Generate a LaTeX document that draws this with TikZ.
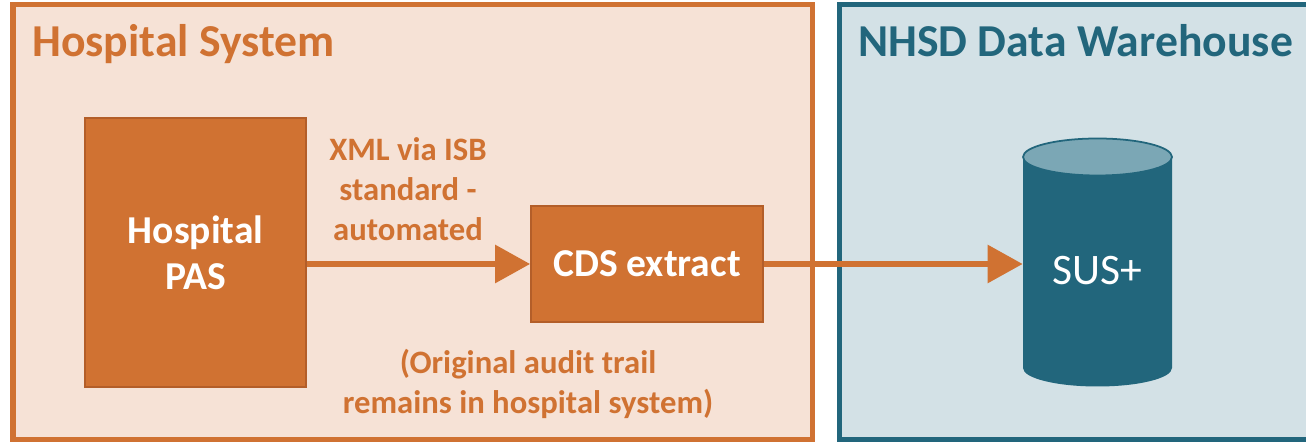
\documentclass[tikz,border=0pt]{standalone}
\usepackage{fontspec}
\setmainfont{Carlito}
\usetikzlibrary{arrows.meta, positioning}
\definecolor{hospOrange}{HTML}{D07232}
\definecolor{hospEdge}{HTML}{B35E29}
\definecolor{hospBg}{HTML}{F6E2D6}
\definecolor{nhsdTeal}{HTML}{22667C}
\definecolor{nhsdBg}{HTML}{D3E1E6}
\definecolor{nhsdTop}{HTML}{7BA7B5}

\begin{document}
\begin{tikzpicture}[x=0.02cm,y=0.02cm,
    every node/.style={align=center,inner sep=0pt},
    frame/.style={line width=2.85pt},
    title/.style={anchor=base west,font=\fontsize{26}{30}\selectfont\bfseries},
    box/.style={draw=hospEdge,line width=1pt,fill=hospOrange,text=white,
      font=\fontsize{22.5}{26}\selectfont\bfseries},
    note/.style={text=hospOrange,font=\fontsize{18.6}{22.8}\selectfont\bfseries},
    flow/.style={draw=hospOrange,line width=3.4pt,
      -{Triangle[length=0.7cm,width=0.74cm]}}]
  \useasboundingbox (0,0) rectangle (1306,445);
  % the two systems
  \draw[frame,draw=hospOrange,fill=hospBg] (13,5) rectangle (812,440);
  \draw[frame,draw=nhsdTeal,fill=nhsdBg] (839,5) rectangle (1316,440);
  \node[title,text=hospOrange] (hosptitle) at (32,388) {Hospital System};
  \node[title,text=nhsdTeal] (nhsdtitle) at (858,388) {NHSD Data Warehouse};
  % hospital side
  \node[box,minimum width=4.42cm,minimum height=5.38cm] (pas) at (195.5,192.5) {Hospital\\PAS};
  \node[box,minimum width=4.64cm,minimum height=2.32cm] (cds) at (647,181) {CDS extract};
  \node[note] (xml) at (408,256) {XML via ISB\\standard -\\automated};
  \node[note] (audit) at (528,61) {(Original audit trail\\remains in hospital system)};
  % warehouse cylinder
  \fill[nhsdTeal] (1023,288) -- (1023,77)
    arc[start angle=180,end angle=360,x radius=74.5,y radius=18.5] -- (1172,288) -- cycle;
  \draw[draw=nhsdTeal,fill=nhsdTop,line width=1pt] (1097.5,288) ellipse [x radius=74.5,y radius=18.5];
  \node[text=white,font=\fontsize{24.8}{28}\selectfont,minimum width=2.98cm,minimum height=3cm] (sus) at (1097.5,174) {SUS+};
  % data flow
  \draw[flow] (cds.west -| pas.east) -- (cds.west);
  \draw[flow] (cds.east) -- (cds.east -| sus.west);
\end{tikzpicture}
\end{document}
